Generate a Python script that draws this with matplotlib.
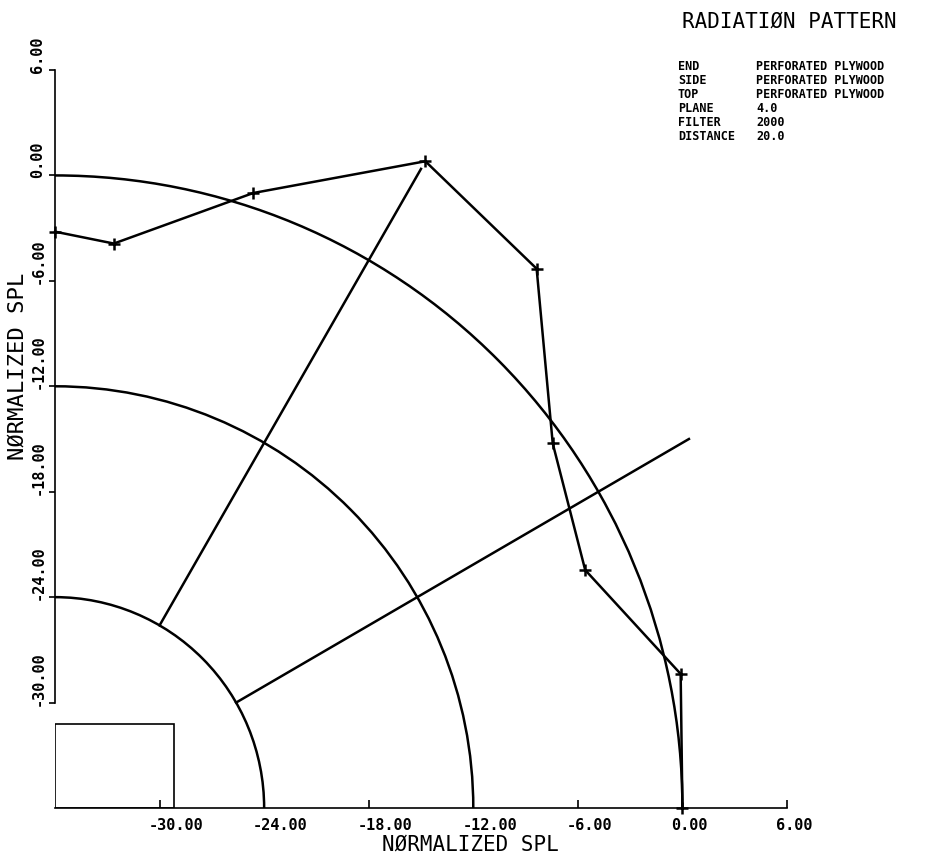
import numpy as np
import matplotlib
matplotlib.use("Agg")
import matplotlib.pyplot as plt
from matplotlib.patches import Arc, Rectangle
from matplotlib.transforms import ScaledTranslation

# measured pattern: angle (deg) vs normalized SPL (dB)
angles = [0, 12, 24, 36, 48, 60, 72, 84, 90]
spl = [0.0, 0.7, -2.7, -0.7, 5.3, 6.5, 0.8, -3.7, -3.2]

ring_levels = [0, -12, -24]
spoke_angles = [30, 60]
xticks = [-30, -24, -18, -12, -6, 0, 6]
yticks = [6, 0, -6, -12, -18, -24, -30]

info_keys = ["END", "SIDE", "TOP", "PLANE", "FILTER", "DISTANCE"]
info_vals = ["PERFORATED PLYWOOD", "PERFORATED PLYWOOD", "PERFORATED PLYWOOD",
             "4.0", "2000", "20.0"]

floor = -36.0
top = 6.0
mono = "DejaVu Sans Mono"
plt.rcParams['font.family'] = mono

fig = plt.figure(figsize=(9.32, 8.59), dpi=100)
ax = fig.add_axes([55 / 932, 51 / 859, 732 / 932, 738 / 859])
ax.set_xlim(floor, top)
ax.set_ylim(floor, top)

for s in ['top', 'right']:
    ax.spines[s].set_visible(False)
ax.spines['left'].set_bounds(-30, 6)
ax.spines['left'].set_linewidth(1.2)
ax.spines['bottom'].set_linewidth(1.2)

# rings of constant level, centred on the floor corner
for lev in ring_levels:
    r = lev - floor
    ax.add_patch(Arc((floor, floor), 2 * r, 2 * r, theta1=0, theta2=90,
                     color='black', lw=1.8))

# angle spokes
for a in spoke_angles:
    t = np.radians(a)
    r0, r1 = 12, top - floor
    ax.plot([floor + r0 * np.cos(t), floor + r1 * np.cos(t)],
            [floor + r0 * np.sin(t), floor + r1 * np.sin(t)], color='black', lw=1.8)

th = np.radians(angles)
rad = np.array(spl) - floor
ax.plot(floor + rad * np.cos(th), floor + rad * np.sin(th), color='black', lw=1.8,
        marker='+', markersize=8, mew=1.8, clip_on=False)

ax.add_patch(Rectangle((floor, floor), 6.8, 4.8, fill=False, color='black', lw=1.2))

ax.set_xticks(xticks)
ax.set_xticklabels(["%.2f" % v for v in xticks], ha='left', weight='bold')
ax.tick_params(axis='x', direction='in', length=6, width=1.2, pad=7, labelsize=11)
for lbl in ax.get_xticklabels():
    lbl.set_transform(lbl.get_transform() + ScaledTranslation(-11 / 100, 0, fig.dpi_scale_trans))

ax.set_yticks(yticks)
ax.set_yticklabels(["%.2f" % v for v in yticks], rotation=90, rotation_mode='anchor',
                   ha='left', va='bottom', weight='bold')
ax.tick_params(axis='y', direction='out', length=4, width=1.2, pad=3, labelsize=11)
for lbl in ax.get_yticklabels():
    lbl.set_transform(lbl.get_transform() + ScaledTranslation(0, -3 / 100, fig.dpi_scale_trans))

ax.set_xlabel("NØRMALIZED SPL", fontsize=15)
ax.xaxis.set_label_coords((470 - 55) / 732, -37 / 738)
ax.xaxis.label.set_va('center')
ax.set_ylabel("NØRMALIZED SPL", fontsize=16)
ax.yaxis.set_label_coords(-37 / 732, (808 - 366) / 738)
ax.yaxis.label.set_va('center')

fig.text(682 / 932, 1 - 22 / 859, "RADIATIØN PATTERN", ha='left', va='center', fontsize=15)
row_y = 67
for k, v in zip(info_keys, info_vals):
    fig.text(678 / 932, 1 - row_y / 859, k, ha='left', va='center', fontsize=8.5, weight='bold')
    fig.text(756 / 932, 1 - row_y / 859, v, ha='left', va='center', fontsize=8.5, weight='bold')
    row_y += 14

fig.savefig("out.png", dpi=100)
